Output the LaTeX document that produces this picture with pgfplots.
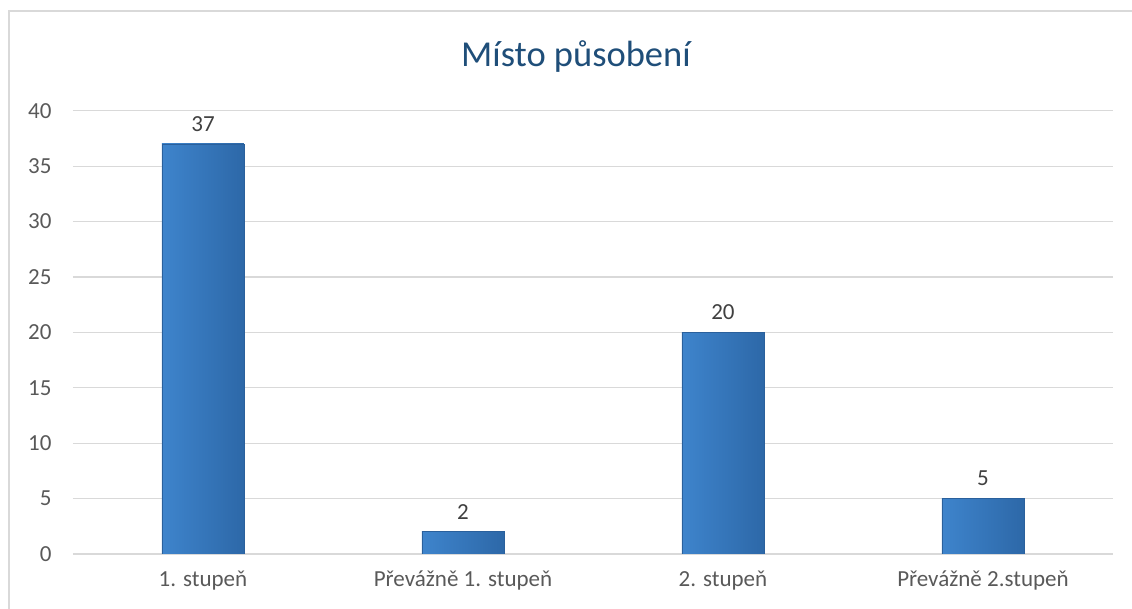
\documentclass[border=0pt]{standalone}
\usepackage{pgfplots}
\pgfplotsset{compat=1.18}
\usepackage{fontspec}
\setmainfont{Carlito}
\definecolor{titleblue}{HTML}{1F4E79}
\definecolor{barlight}{HTML}{3E84CC}
\definecolor{barmid}{HTML}{3A7CC3}
\definecolor{bardark}{HTML}{2D68A8}
\definecolor{baredge}{HTML}{2A609C}
\definecolor{gridgray}{HTML}{D9D9D9}
\definecolor{ticktext}{HTML}{595959}
\definecolor{labeltext}{HTML}{404040}
\definecolor{framegray}{HTML}{D9D9D9}
\pgfplotsset{mybar/.style={left color=barlight, middle color=barmid, right color=bardark, draw=baredge, line width=0.8pt}}
\begin{document}
\begin{tikzpicture}[x=1pt,y=1pt]
\useasboundingbox (0,0) rectangle (1132,609);
\draw[framegray, line width=1.2pt] (9,-5) -- (9,598) -- (1140,598);
\node[anchor=base, text=titleblue, font=\fontsize{36.5}{42}\selectfont] at (576,542) {Místo působení};
\begin{axis}[
  at={(73pt,55pt)}, anchor=south west,
  scale only axis, width=1040pt, height=443.3pt,
  xmin=-0.5, xmax=3.5, ymin=0, ymax=40,
  xtick={0,1,2,3},
  xticklabels={1. stupeň, Převážně 1. stupeň, 2. stupeň, Převážně 2.stupeň},
  ytick={0,5,...,40},
  ymajorgrids, grid style={gridgray, line width=1.2pt},
  axis line style={draw=none}, tick style={draw=none},
  /pgf/number format/assume math mode=true,
  yticklabel style={font=\fontsize{23}{27}\selectfont, text=ticktext, xshift=-18pt},
  xticklabel style={font=\fontsize{23}{27}\selectfont, text=ticktext, yshift=-9pt},
  ybar, bar width=82pt, bar shift=0pt,
  nodes near coords,
  nodes near coords style={font=\fontsize{23}{27}\selectfont, text=labeltext, yshift=9pt, /pgf/number format/assume math mode=true},
]
\addplot[mybar] coordinates {(0,37)};
\addplot[mybar] coordinates {(1,2)};
\addplot[mybar] coordinates {(2,20)};
\addplot[mybar] coordinates {(3,5)};
\end{axis}
\end{tikzpicture}
\end{document}
